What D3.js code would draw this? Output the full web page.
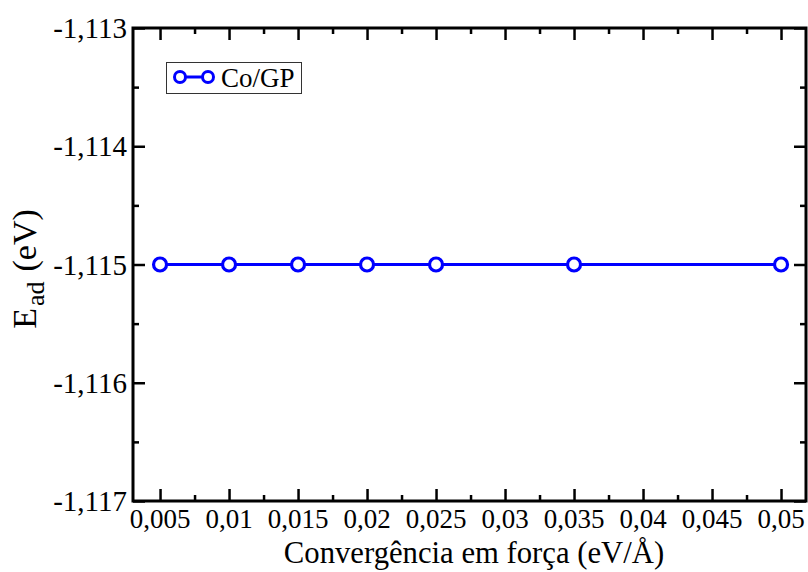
<!DOCTYPE html>
<html>
<head>
<meta charset="utf-8">
<script src="https://cdn.jsdelivr.net/npm/d3@7"></script>
<style>
  html, body { margin: 0; padding: 0; background: #fff; }
  svg { display: block; }
  text { font-family: "Liberation Serif", "Times New Roman", serif; fill: #000; }
</style>
</head>
<body>
<svg id="chart" width="808" height="572"></svg>
<script>
// Force-convergence criterion (eV/Å) and adsorption energy (eV) for Co/GP
const seriesName = "Co/GP";
const convergence = [0.005, 0.01, 0.015, 0.02, 0.025, 0.035, 0.05];
const adsorptionEnergy = [-1.115, -1.115, -1.115, -1.115, -1.115, -1.115, -1.115];

const xMajorTicks = [0.005, 0.01, 0.015, 0.02, 0.025, 0.03, 0.035, 0.04, 0.045, 0.05];
const xMinorTicks = [0.0075, 0.0125, 0.0175, 0.0225, 0.0275, 0.0325, 0.0375, 0.0425, 0.0475];
const yMajorTicks = [-1.117, -1.116, -1.115, -1.114, -1.113];
const yMinorTicks = [-1.1165, -1.1155, -1.1145, -1.1135];

const xLabel = "Convergência em força (eV/Å)";

const svg = d3.select("#chart");
const W = 808, H = 572;
const m = { left: 133, right: 2, top: 28, bottom: 71 };
const plotW = W - m.left - m.right, plotH = H - m.top - m.bottom;

const x = d3.scaleLinear().domain([0.00304, 0.05181]).range([m.left, m.left + plotW]);
const y = d3.scaleLinear().domain([-1.117, -1.113]).range([m.top + plotH, m.top]);

const loc = d3.formatLocale({ decimal: ",", thousands: ".", grouping: [3], currency: ["", ""], minus: "-" });
// 0,005 / 0,01 / 0,015 ... (trailing zeros dropped)
const fmtX = v => loc.format(".3f")(v).replace(/0+$/, "").replace(/,$/, "");
const fmtY = loc.format(".3f");

const tickW = 2.5, majLen = 12, minLen = 6;

function styleAxis(g) {
  g.select(".domain").remove();
  g.selectAll(".tick line").attr("stroke", "#000").attr("stroke-width", tickW);
}

function ticks(transform, axisFn, scale) {
  svg.append("g").attr("transform", transform)
    .call(axisFn(scale).tickValues(scale === x ? xMajorTicks : yMajorTicks).tickSize(majLen).tickFormat(""))
    .call(styleAxis);
  svg.append("g").attr("transform", transform)
    .call(axisFn(scale).tickValues(scale === x ? xMinorTicks : yMinorTicks).tickSize(minLen).tickFormat(""))
    .call(styleAxis);
}

ticks(`translate(0,${m.top + plotH})`, d3.axisTop, x);      // bottom
ticks(`translate(0,${m.top})`, d3.axisBottom, x);           // top
ticks(`translate(${m.left},0)`, d3.axisRight, y);           // left
ticks(`translate(${m.left + plotW},0)`, d3.axisLeft, y);    // right

// tick labels
svg.append("g").selectAll("text").data(xMajorTicks).join("text")
  .attr("x", d => x(d)).attr("y", m.top + plotH + 27)
  .attr("text-anchor", "middle").style("font-size", "27px").text(fmtX);
svg.append("g").selectAll("text").data(yMajorTicks).join("text")
  .attr("x", m.left - 6).attr("y", d => y(d) + 10)
  .attr("text-anchor", "end").style("font-size", "29px").text(fmtY);

// frame
svg.append("rect").attr("x", m.left).attr("y", m.top).attr("width", plotW).attr("height", plotH)
  .attr("fill", "none").attr("stroke", "#000").attr("stroke-width", 3);

// series
const pts = convergence.map((c, i) => [c, adsorptionEnergy[i]]);
const blue = "#0000ff";
svg.append("path").datum(pts)
  .attr("d", d3.line().x(d => x(d[0])).y(d => y(d[1])))
  .attr("fill", "none").attr("stroke", blue).attr("stroke-width", 3);
svg.append("g").selectAll("circle").data(pts).join("circle")
  .attr("cx", d => x(d[0])).attr("cy", d => y(d[1])).attr("r", 6.5)
  .attr("fill", "#fff").attr("stroke", blue).attr("stroke-width", 3.2);

// legend
const lg = svg.append("g");
lg.append("rect").attr("x", 166.5).attr("y", 62.5).attr("width", 135).attr("height", 31)
  .attr("fill", "#fff").attr("stroke", "#333").attr("stroke-width", 1);
lg.append("line").attr("x1", 180).attr("x2", 208).attr("y1", 77).attr("y2", 77)
  .attr("stroke", blue).attr("stroke-width", 3);
lg.selectAll("circle").data([180, 208]).join("circle")
  .attr("cx", d => d).attr("cy", 77).attr("r", 5.5)
  .attr("fill", "#fff").attr("stroke", blue).attr("stroke-width", 3);
lg.append("text").attr("x", 221).attr("y", 87).style("font-size", "27px").text(seriesName);

// x-axis title, sized to span the area under the axis
const xt = svg.append("text").attr("x", 474).attr("y", 563)
  .attr("text-anchor", "middle").style("font-size", "30px").text(xLabel);
const len30 = xt.node().getComputedTextLength();
xt.style("font-size", (30 * 381 / len30).toFixed(1) + "px");

// y-axis title
const yt = svg.append("text")
  .attr("transform", `translate(36,269) rotate(-90)`)
  .attr("text-anchor", "middle").style("font-size", "34px");
yt.append("tspan").text("E");
yt.append("tspan").attr("dy", 8).attr("dx", 2).style("font-size", "26px").text("ad");
yt.append("tspan").attr("dy", -8).attr("dx", 10).text("(eV)");
</script>
</body>
</html>
